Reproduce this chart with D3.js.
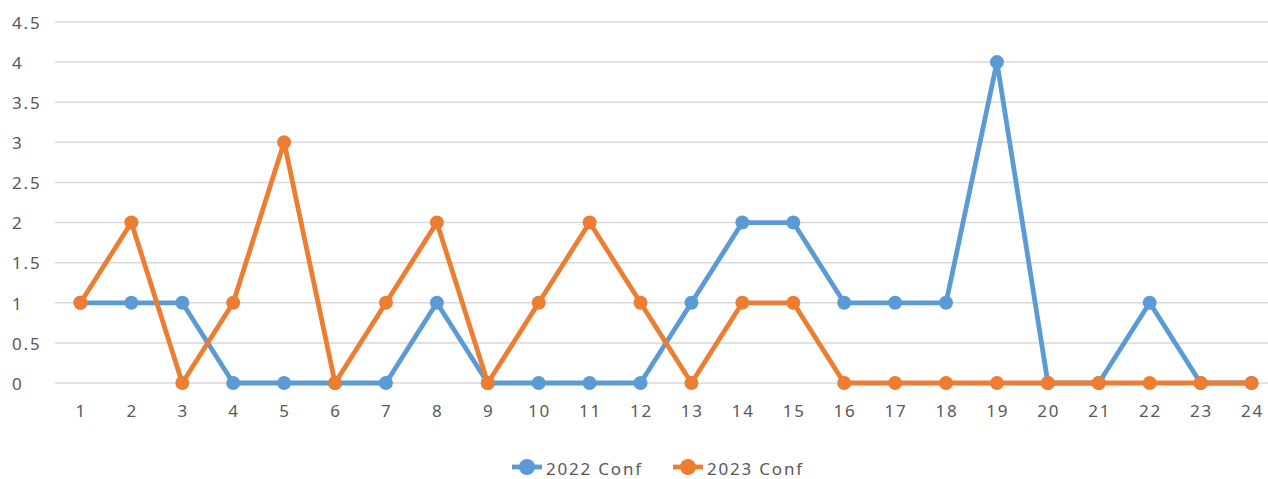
<!DOCTYPE html>
<html><head><meta charset="utf-8">
<script src="https://cdn.jsdelivr.net/npm/d3@7"></script>
<style>body{margin:0;background:#fff}svg{display:block}text{font-family:"Noto Sans",sans-serif;fill:#595959;letter-spacing:1.8px}</style>
</head><body>
<svg id="c" width="1268" height="479"></svg>
<script>
const categories = ["1","2","3","4","5","6","7","8","9","10","11","12","13","14","15","16","17","18","19","20","21","22","23","24"];
const conf2022 = [1,1,1,0,0,0,0,1,0,0,0,0,1,2,2,1,1,1,4,0,0,1,0,0];
const conf2023 = [1,2,0,1,3,0,1,2,0,1,2,1,0,1,1,0,0,0,0,0,0,0,0,0];
const yTicks = [0,0.5,1,1.5,2,2.5,3,3.5,4,4.5];
const seriesNames = ["2022 Conf","2023 Conf"];
const colors = ["#5B9BD5","#ED7D31"];

(function(){
const svg = d3.select("#c");
const pLeft = 55, pRight = 1277, pTop = 22, pBottom = 383;
const fs = 17;
const x = d3.scaleBand().domain(categories).range([pLeft, pRight]);
const y = d3.scaleLinear().domain([0,4.5]).range([pBottom, pTop]);

svg.append("g").selectAll("line").data(yTicks).join("line")
  .attr("x1", pLeft).attr("x2", pRight)
  .attr("y1", d => y(d)).attr("y2", d => y(d))
  .attr("stroke", "#d9d9d9").attr("stroke-width", 1.5);

svg.append("g").selectAll("text").data(yTicks).join("text")
  .attr("x", 12).attr("y", d => y(d)).attr("dy", "0.4em")
  .attr("text-anchor", "start").attr("font-size", fs)
  .text(d => d);

svg.append("g").selectAll("text").data(categories).join("text")
  .attr("x", d => x(d) + x.bandwidth()/2 + 0.9).attr("y", 411).attr("dy", "0.38em")
  .attr("text-anchor", "middle").attr("font-size", fs)
  .text(d => d);

const series = [conf2022, conf2023];
const line = d3.line().x((d,i) => x(categories[i]) + x.bandwidth()/2).y(d => y(d));
series.forEach((s, k) => {
  const g = svg.append("g");
  g.append("path").datum(s).attr("d", line).attr("fill", "none")
    .attr("stroke", colors[k]).attr("stroke-width", 4.8).attr("stroke-linejoin", "round");
  g.selectAll("circle").data(s).join("circle")
    .attr("cx", (d,i) => x(categories[i]) + x.bandwidth()/2).attr("cy", d => y(d))
    .attr("r", 7).attr("fill", colors[k]);
});

const lx = [512, 673];
seriesNames.forEach((n, k) => {
  const g = svg.append("g");
  g.append("line").attr("x1", lx[k]).attr("x2", lx[k]+30).attr("y1", 467).attr("y2", 467)
    .attr("stroke", colors[k]).attr("stroke-width", 4.8);
  g.append("circle").attr("cx", lx[k]+15).attr("cy", 467).attr("r", 8).attr("fill", colors[k]);
  g.append("text").attr("x", lx[k]+34).attr("y", 469).attr("dy", "0.35em")
    .attr("font-size", fs).text(n);
});
})();
</script>
</body></html>
